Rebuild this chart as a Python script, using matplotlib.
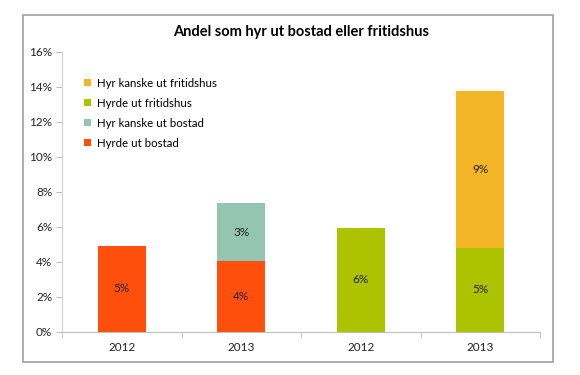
import numpy as np
import matplotlib.pyplot as plt
from matplotlib.patches import Rectangle

plt.rcParams['font.family'] = ['Lato', 'DejaVu Sans']

categories = ['2012', '2013', '2012', '2013']
series_names = ['Hyrde ut bostad', 'Hyr kanske ut bostad',
                'Hyrde ut fritidshus', 'Hyr kanske ut fritidshus']
hyrde_bostad = [4.9, 4.05, 0, 0]
kanske_bostad = [0, 3.3, 0, 0]
hyrde_fritid = [0, 0, 5.95, 4.8]
kanske_fritid = [0, 0, 0, 8.95]
colors = ['#FF4F0C', '#93C5B0', '#AEC300', '#F4B526']

fig = plt.figure(figsize=(5.8, 3.75), dpi=100)
# chart border
fig.patches.append(Rectangle((0.040, 0.035), 0.914, 0.925, transform=fig.transFigure,
                             fill=False, edgecolor='#A0A0A0', linewidth=1.2))
ax = fig.add_axes([0.107, 0.115, 0.824, 0.747])

x = np.arange(len(categories))
bottom = np.zeros(len(categories))
series = [hyrde_bostad, kanske_bostad, hyrde_fritid, kanske_fritid]
for name, vals, col in zip(series_names, series, colors):
    vals = np.array(vals)
    ax.bar(x, vals, 0.4, bottom=bottom, color=col, label=name)
    for xi, v, b0 in zip(x, vals, bottom):
        if v > 0:
            ax.text(xi, b0 + v / 2, f'{round(v):.0f}%', ha='center', va='center',
                    fontsize=8.5, color='#222222')
    bottom = bottom + vals

ax.set_xlim(-0.5, 3.5)
ax.set_ylim(0, 16)
ax.set_yticks(range(0, 17, 2))
ax.set_yticklabels([f'{v}%' for v in range(0, 17, 2)])
ax.set_xticks(x)
ax.set_xticklabels(categories)
ax.set_xticks(np.arange(-0.5, 4, 1), minor=True)
ax.tick_params(axis='x', which='major', length=0, pad=7, labelsize=8.5, colors='#222222')
ax.tick_params(axis='x', which='minor', length=4, color='#BFBFBF')
ax.tick_params(axis='y', length=4, labelsize=8.5, colors='#222222', pad=3)
ax.tick_params(axis='y', color='#BFBFBF')
for s in ['top', 'right']:
    ax.spines[s].set_visible(False)
ax.spines['left'].set_color('#D0D0D0')
ax.spines['bottom'].set_color('#BFBFBF')

ax.set_title('Andel som hyr ut bostad eller fritidshus', fontsize=10.5,
             fontweight='bold', pad=11)

h, l = ax.get_legend_handles_labels()
ax.legend(h[::-1], l[::-1], loc='upper left', bbox_to_anchor=(0.025, 0.945),
          frameon=False, fontsize=8.3, handlelength=0.6, handleheight=0.6,
          handletextpad=0.5, labelspacing=0.78)

fig.savefig('out.png', dpi=100)
